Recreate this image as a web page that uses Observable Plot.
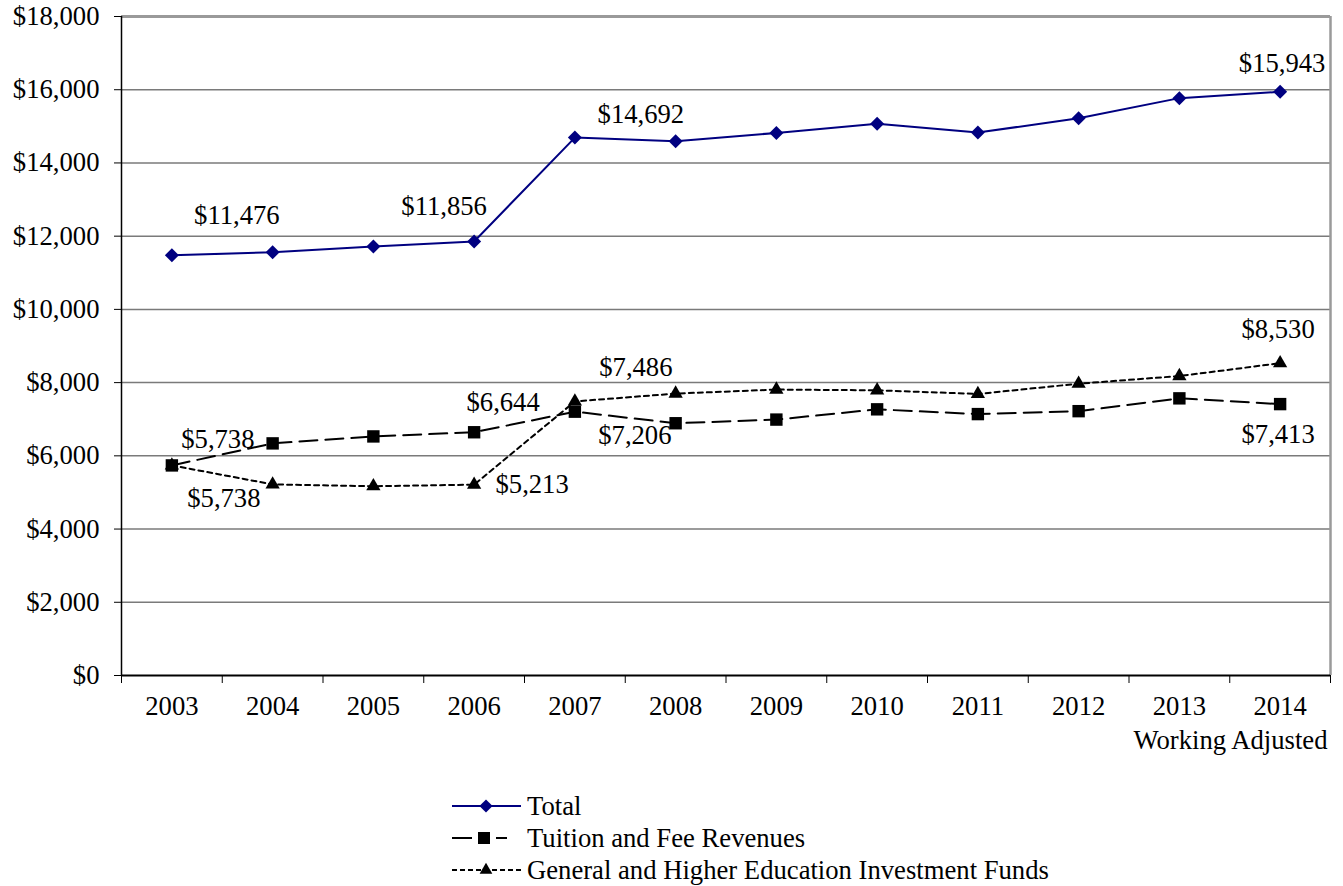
<!DOCTYPE html>
<html><head><meta charset="utf-8">
<script src="https://cdn.jsdelivr.net/npm/d3@7"></script>
<script src="https://cdn.jsdelivr.net/npm/@observablehq/plot@0.6"></script>
</head><body style="margin:0;background:#fff">
<div id="chart"></div>
<div id="legend" style="margin-left:452px;margin-top:30px"></div>
<script>
// ---- data ----
const years = [2003, 2004, 2005, 2006, 2007, 2008, 2009, 2010, 2011, 2012, 2013, 2014];
const total = [11476, 11560, 11720, 11856, 14692, 14590, 14820, 15070, 14830, 15220, 15770, 15943];
const tuition = [5738, 6340, 6530, 6644, 7206, 6890, 6990, 7270, 7140, 7220, 7570, 7413];
const investment = [5738, 5220, 5170, 5213, 7486, 7700, 7810, 7790, 7690, 7970, 8180, 8530];
const seriesNames = ["Total", "Tuition and Fee Revenues", "General and Higher Education Investment Funds"];
const yTicks = [0, 2000, 4000, 6000, 8000, 10000, 12000, 14000, 16000, 18000];
const lastYearNote = "Working Adjusted";
const labeledYears = [2003, 2006, 2007, 2014];

// ---- build ----
const FONT = "Liberation Serif";
const FS = 26.67;
const fmt = d3.format("$,");
const mk = vals => years.map((x, i) => ({x, y: vals[i]}));
const dTotal = mk(total), dTuition = mk(tuition), dInvest = mk(investment);

const offsets = {
  total:      {2003: [65, -40], 2006: [-30, -35], 2007: [66, -23], 2014: [2, -28]},
  tuition:    {2003: [46, -26], 2006: [29, -30], 2007: [60, 24], 2014: [-2, 30]},
  investment: {2003: [52, 33], 2006: [58, 0], 2007: [61, -34], 2014: [-2, -34]}
};
const labelMarks = [];
for (const [key, data] of [["total", dTotal], ["tuition", dTuition], ["investment", dInvest]]) {
  for (const yr of labeledYears) {
    const [dx, dy] = offsets[key][yr];
    labelMarks.push(Plot.text(data.filter(d => d.x === yr), {
      x: "x", y: "y", text: d => fmt(d.y), dx, dy, fill: "black", lineAnchor: "middle"
    }));
  }
}
const halfTicks = d3.range(years[0] - 0.5, years[years.length - 1] + 1, 1);

const chart = Plot.plot({
  width: 1343, height: 760,
  marginLeft: 121, marginRight: 13, marginTop: 16, marginBottom: 85,
  style: {background: "white", color: "black"},
  x: {type: "linear", domain: [years[0] - 0.5, years[years.length - 1] + 0.5]},
  y: {domain: [0, 18000]},
  marks: [
    Plot.gridY(yTicks.slice(1, -1), {stroke: "#7a7a7a", strokeOpacity: 1, strokeWidth: 1.5}),
    Plot.ruleY([18000], {stroke: "#9a9a9a", strokeWidth: 3}),
    Plot.ruleX([years[years.length - 1] + 0.5], {stroke: "#9a9a9a", strokeWidth: 2.5}),
    Plot.axisY({ticks: yTicks, tickFormat: fmt, tickSize: 7, tickPadding: 15, stroke: "black", label: null}),
    Plot.axisX({ticks: halfTicks, tickFormat: () => "", tickSize: 8, stroke: "black", label: null}),
    Plot.axisX({ticks: years, tickFormat: d => String(d), tickSize: 0, tickPadding: 21, label: null}),
    Plot.ruleX([years[0] - 0.5], {stroke: "black", strokeWidth: 1.5}),
    Plot.ruleY([0], {stroke: "black", strokeWidth: 2}),
    Plot.text([lastYearNote], {frameAnchor: "bottom-right", textAnchor: "end", lineAnchor: "middle", dx: -3, dy: 65, fill: "black"}),
    Plot.line(dTotal, {x: "x", y: "y", stroke: "#000080", strokeWidth: 2}),
    Plot.line(dInvest, {x: "x", y: "y", stroke: "black", strokeWidth: 2, strokeDasharray: "5,4"}),
    Plot.line(dTuition, {x: "x", y: "y", stroke: "black", strokeWidth: 2, strokeDasharray: "18,8"}),
    Plot.dot(dTotal, {x: "x", y: "y", symbol: "diamond2", r: 6.3, fill: "#000080", stroke: "none"}),
    Plot.dot(dInvest, {x: "x", y: "y", symbol: "triangle", r: 5.3, fill: "black", stroke: "none"}),
    Plot.dot(dTuition, {x: "x", y: "y", symbol: "square", r: 7, fill: "black", stroke: "none"}),
    ...labelMarks
  ]
});
chart.setAttribute("font-family", FONT);
chart.setAttribute("font-size", String(FS));
chart.style.fontFamily = `"${FONT}"`;
chart.style.fontSize = FS + "px";
chart.querySelectorAll("text, g").forEach(el => {
  if (el.hasAttribute("font-family")) el.setAttribute("font-family", FONT);
  if (el.hasAttribute("font-size")) el.setAttribute("font-size", String(FS));
  el.style.fontFamily = `"${FONT}"`;
});
document.getElementById("chart").appendChild(chart);

// ---- legend ----
const ns = "http://www.w3.org/2000/svg";
const swatches = [
  () => `<line x1="0" x2="69" y1="16" y2="16" stroke="#000080" stroke-width="2"/>
        <path d="${d3.symbol(d3.symbolDiamond2, 110)()}" transform="translate(34,16)" fill="#000080"/>`,
  () => `<line x1="0" x2="20" y1="16" y2="16" stroke="black" stroke-width="2"/>
        <line x1="44" x2="55" y1="16" y2="16" stroke="black" stroke-width="2"/>
        <rect x="26" y="10" width="12" height="12" fill="black"/>`,
  () => `<line x1="0" x2="69" y1="16" y2="16" stroke="black" stroke-width="2" stroke-dasharray="5,3"/>
        <path d="${d3.symbol(d3.symbolTriangle, 70)()}" transform="translate(34,16)" fill="black"/>`
];
const legend = document.getElementById("legend");
seriesNames.forEach((name, i) => {
  const row = document.createElement("div");
  row.style.display = "flex";
  row.style.alignItems = "center";
  row.style.height = "32px";
  row.style.whiteSpace = "nowrap";
  row.innerHTML = `<svg width="75" height="32" xmlns="${ns}" style="flex:none">${swatches[i]()}</svg>`;
  const span = document.createElement("span");
  span.style.fontFamily = `"${FONT}"`;
  span.style.fontSize = FS + "px";
  span.style.color = "black";
  span.textContent = name;
  row.appendChild(span);
  legend.appendChild(row);
});
</script>
</body></html>
